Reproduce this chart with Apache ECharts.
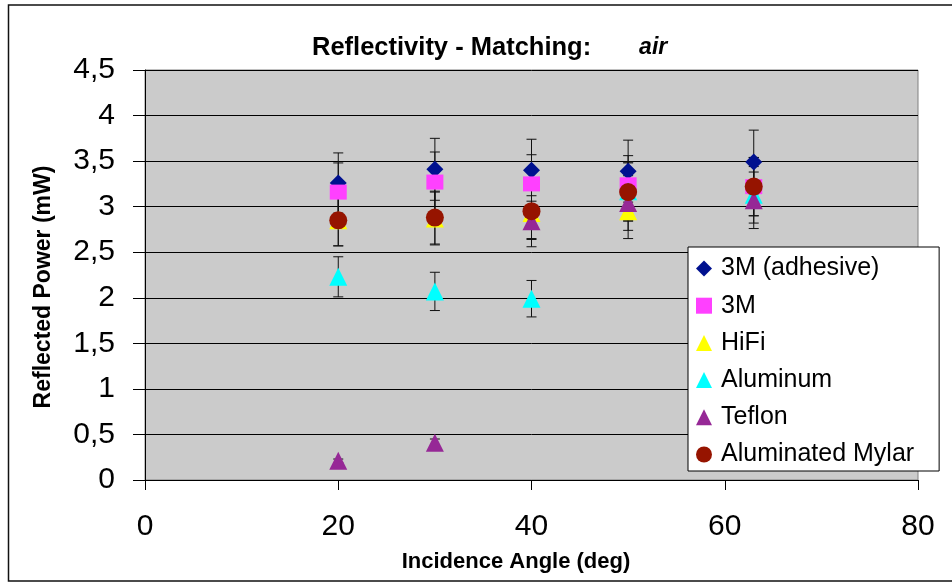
<!DOCTYPE html>
<html>
<head>
<meta charset="utf-8">
<script src="https://cdn.jsdelivr.net/npm/echarts@6/dist/echarts.min.js"></script>
<style>
html,body{margin:0;padding:0;background:#fff;}
#chart{width:952px;height:583px;}
</style>
</head>
<body>
<div id="chart"></div>
<script>
// ---- data ----
const angles = [20, 30, 40, 50, 63];
const seriesNames = ['3M (adhesive)', '3M', 'HiFi', 'Aluminum', 'Teflon', 'Aluminated Mylar'];
const adhesive = [3.26, 3.41, 3.40, 3.39, 3.49];
const adhesiveErr = [0.33, 0.34, 0.34, 0.34, 0.35];
const m3 = [3.16, 3.27, 3.25, 3.24, 3.22];
const m3Err = [0.32, 0.33, 0.32, 0.32, 0.32];
const hifi = [2.85, 2.87, 2.93, 2.95];
const hifiErr = [0.28, 0.29, 0.29, 0.30];
const aluminum = [2.23, 2.07, 1.99, 3.17, 3.13];
const aluminumErr = [0.22, 0.21, 0.20, 0.32, 0.31];
const teflon = [0.21, 0.41, 2.84, 3.04, 3.07];
const teflonErr = [0.02, 0.04, 0.28, 0.30, 0.31];
const mylar = [2.85, 2.88, 2.95, 3.16, 3.22];
const mylarErr = [0.28, 0.29, 0.30, 0.32, 0.32];
const xTicks = [0, 20, 40, 60, 80];
const yTicks = ['0', '0,5', '1', '1,5', '2', '2,5', '3', '3,5', '4', '4,5'];

const values = [adhesive, m3, hifi, aluminum, teflon, mylar];
const errors = [adhesiveErr, m3Err, hifiErr, aluminumErr, teflonErr, mylarErr];
const colors = ['#00118f', '#ff40ff', '#ffff00', '#00ffff', '#962896', '#961400'];
const symbols = ['diamond', 'rect', 'triangle', 'triangle', 'triangle', 'circle'];
const sizes = [17, [17, 15], 18, 18, 18, 18];

const FONT = '"Liberation Sans", Arial, sans-serif';

const errData = [];
values.forEach((vals, s) => {
  vals.forEach((v, i) => {
    errData.push([angles[i], v - errors[s][i], v + errors[s][i]]);
  });
});

const series = [{
  type: 'custom',
  name: 'err',
  z: 1,
  silent: true,
  data: errData,
  renderItem: function (params, api) {
    const x = api.value(0);
    const lo = api.coord([x, api.value(1)]);
    const hi = api.coord([x, api.value(2)]);
    const w = 5;
    const st = { stroke: '#111', lineWidth: 1 };
    return {
      type: 'group',
      children: [
        { type: 'line', shape: { x1: lo[0], y1: lo[1], x2: hi[0], y2: hi[1] }, style: st },
        { type: 'line', shape: { x1: lo[0] - w, y1: lo[1], x2: lo[0] + w, y2: lo[1] }, style: st },
        { type: 'line', shape: { x1: hi[0] - w, y1: hi[1], x2: hi[0] + w, y2: hi[1] }, style: st }
      ]
    };
  }
}];

values.forEach((vals, s) => {
  series.push({
    type: 'scatter',
    name: seriesNames[s],
    z: 2,
    symbol: symbols[s],
    symbolSize: sizes[s],
    itemStyle: { color: colors[s], opacity: 1 },
    data: vals.map((v, i) => [angles[i], v])
  });
});

const chart = echarts.init(document.getElementById('chart'));
chart.setOption({
  animation: false,
  backgroundColor: '#ffffff',
  title: {
    left: 307,
    top: 30,
    text: '{b|Reflectivity - Matching:}{s| }{i|air}',
    textStyle: {
      rich: {
        b: { fontFamily: FONT, fontWeight: 'bold', fontSize: 25.5, color: '#000' },
        s: { fontFamily: FONT, fontSize: 25.5, width: 48 },
        i: { fontFamily: FONT, fontWeight: 'bold', fontStyle: 'italic', fontSize: 23, color: '#000' }
      }
    }
  },
  grid: {
    left: 145, right: 34, top: 70, bottom: 103,
    show: true,
    backgroundColor: '#cbcbcb',
    borderColor: '#808080',
    borderWidth: 1
  },
  legend: {
    orient: 'vertical',
    left: 688,
    top: 247,
    data: seriesNames,
    backgroundColor: '#ffffff',
    borderColor: '#000',
    borderWidth: 1,
    padding: [9, 25, 4, 8],
    itemWidth: 16,
    itemHeight: 16,
    itemGap: 12.2,
    textStyle: { fontFamily: FONT, fontSize: 25, color: '#000', lineHeight: 24, padding: [0, 0, 0, 4] }
  },
  xAxis: {
    type: 'value',
    min: 0, max: 80, interval: 20,
    axisLine: { show: true, lineStyle: { color: '#000', width: 1 } },
    axisTick: { show: true, length: 10, lineStyle: { color: '#000' } },
    splitLine: { show: false },
    axisLabel: { fontFamily: FONT, fontSize: 30, color: '#000', margin: 32,
      formatter: v => String(xTicks[Math.round(v / 20)]) }
  },
  yAxis: {
    type: 'value',
    min: 0, max: 4.5, interval: 0.5,
    axisLine: { show: true, lineStyle: { color: '#000', width: 1 } },
    axisTick: { show: true, length: 12, lineStyle: { color: '#000' } },
    splitLine: { show: true, lineStyle: { color: '#000', width: 1 } },
    axisLabel: { fontFamily: FONT, fontSize: 30, color: '#000', margin: 30,
      formatter: v => yTicks[Math.round(v / 0.5)] }
  },
  graphic: [
    { type: 'rect', z: 100, silent: true,
      shape: { x: 8.5, y: 5, width: 1000, height: 576 },
      style: { fill: 'none', stroke: '#111', lineWidth: 1.5 } },
    { type: 'text', x: 44, y: 287, rotation: Math.PI / 2,
      style: { text: 'Reflected Power (mW)', fontFamily: FONT, fontWeight: 'bold', fontSize: 23,
        fill: '#000', textAlign: 'center', textVerticalAlign: 'middle' } },
    { type: 'text', x: 516, y: 562,
      style: { text: 'Incidence Angle (deg)', fontFamily: FONT, fontWeight: 'bold', fontSize: 22,
        fill: '#000', textAlign: 'center', textVerticalAlign: 'middle' } }
  ],
  series: series
});
</script>
</body>
</html>
